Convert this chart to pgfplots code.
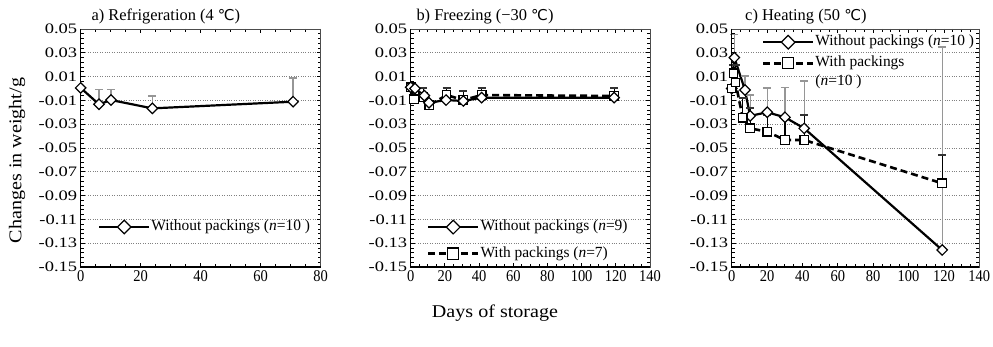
\documentclass[border=0pt]{standalone}
\usepackage{pgfplots}
\pgfplotsset{compat=1.18}
\usepackage{fontspec}
\setmainfont{Liberation Serif}
\newfontfamily\symfont{DejaVu Sans}
\newfontfamily\ytf{Liberation Serif}[FakeStretch=1.28]
\newfontfamily\xtf{Liberation Serif}[FakeStretch=0.88]
\newfontfamily\widefont{Liberation Serif}[FakeStretch=1.12]
\newcommand{\degC}{{\symfont\fontsize{15}{17}\selectfont ℃}}
\definecolor{eb}{RGB}{150,150,150}

\pgfplotsset{
 panel/.style={
  scale only axis, height=238bp, clip=false,
  ymin=-0.15, ymax=0.05,
  ytick={-0.15,-0.13,-0.11,-0.09,-0.07,-0.05,-0.03,-0.01,0.01,0.03,0.05},
  minor y tick num=4, minor x tick num=3,
  ymajorgrids, grid style={dotted, line width=0.9bp, black!50},
  axis line style={line width=0.6bp, black!70},
  tick align=inside, major tick length=4bp, minor tick length=3bp,
  tick style={black, line width=0.8bp},
  yticklabel style={/tikz/font=\ytf\fontsize{14.5}{17}\selectfont, /pgf/number format/.cd, fixed, fixed zerofill, precision=2, assume math mode=true},
  xticklabel style={/tikz/font=\xtf\fontsize{16.5}{18}\selectfont, /pgf/number format/assume math mode=true},
  legend style={draw=none, fill=none, inner sep=0pt, font=\fontsize{15.5}{18}\selectfont,
    nodes={inner sep=1bp, text height=11bp, text depth=3.5bp}},
  legend cell align=left,
  legend image code/.code={\draw[mark repeat=2,mark phase=2,#1,every mark/.append style={scale=1.3}] plot coordinates {(0bp,0bp) (25bp,0bp) (50bp,0bp)};},
 },
 wo/.style={black, solid, line width=2.2bp, mark=square*, mark size=3.7bp,
   mark options={rotate=45, fill=white, solid, line width=1.2bp}},
 wi/.style={black, line width=2.6bp, dash pattern=on 7bp off 4bp, mark=square*, mark size=4.3bp,
   mark options={fill=white, solid, line width=1.2bp}},
 gerr/.style={error bars/.cd, y dir=plus, y explicit,
   error bar style={eb, solid, line width=1.2bp},
   error mark options={rotate=90, eb, mark size=4bp, line width=1.6bp}},
 kerr/.style={error bars/.cd, y dir=plus, y explicit,
   error bar style={black, solid, line width=1.2bp},
   error mark options={rotate=90, black!80, mark size=4bp, line width=2bp}},
}

\begin{document}
\begin{tikzpicture}
\path[use as bounding box] (0bp,0bp) rectangle (993bp,347bp);

% ---------- a) Refrigeration ----------
\begin{axis}[panel, at={(80.7bp,80bp)}, anchor=south west, width=240bp,
  xmin=0, xmax=80, xtick={0,20,...,80},
  legend style={at={(rel axis cs:0.072,0.168)}, anchor=west}]
\addplot[wo, gerr] table[x=x, y=y, y error=e] {
x y e
0 0.0005 0
6.1 -0.0133 0.0123
10.1 -0.0097 0.0087
23.9 -0.0167 0.0104
70.8 -0.0111 0.0197
};
\addlegendentry{Without packings (\textit{n}=10 )}
\draw[line width=1.3bp] (rel axis cs:0,1) -- (rel axis cs:0,0) -- (rel axis cs:1,0);
\end{axis}

% ---------- b) Freezing ----------
\begin{axis}[panel, at={(410.7bp,80bp)}, anchor=south west, width=239.3bp,
  xmin=0, xmax=140, xtick={0,20,...,140}, reverse legend,
  legend style={at={(rel axis cs:0.067,0.112)}, anchor=west, row sep=10bp}]
\addplot[wi, kerr] table[x=x, y=y, y error=e] {
x y e
0 0.001 0
2 -0.009 0
7.4 -0.0070 0.0072
10.9 -0.0140 0
21 -0.0055 0.0057
30.8 -0.0097 0.0079
41.5 -0.0055 0.0057
119 -0.0063 0.0065
};
\addlegendentry{With packings (\textit{n}=7)}
\addplot[wo] table[x=x, y=y] {
x y
0 0.001
2.5 0.000
8 -0.006
10.7 -0.012
20.7 -0.0097
30.8 -0.0105
41.5 -0.0077
119 -0.0077
};
\addlegendentry{Without packings (\textit{n}=9)}
\draw[line width=1.3bp] (rel axis cs:0,1) -- (rel axis cs:0,0) -- (rel axis cs:1,0);
\end{axis}

% ---------- c) Heating ----------
\begin{axis}[panel, at={(731.7bp,80bp)}, anchor=south west, width=247.6bp,
  xmin=0, xmax=140, xtick={0,20,...,140},
  legend style={at={(rel axis cs:0.121,0.980)}, anchor=north west, row sep=4.5bp}]
\addplot[wo, gerr] table[x=x, y=y, y error=e] {
x y e
0 0.000 0
1.5 0.026 0.0195
7.5 -0.0013 0.012
10.4 -0.023 0.0175
20.1 -0.020 0.0202
30.1 -0.0242 0.0249
41 -0.0335 0.0398
119 -0.1357 0.1707
};
\addlegendentry{Without packings (\textit{n}=10 )}
\addplot[wi, kerr] table[x=x, y=y, y error=e] {
x y e
0 0.000 0
1 0.0128 0.007
2.2 0.005 0.015
6.2 -0.0245 0.0165
10.4 -0.0335 0.017
20.1 -0.0363 0.0143
30.1 -0.0433 0.0183
41 -0.0433 0.021
119 -0.0797 0.0237
};
\addlegendentry{\begin{tabular}[t]{@{}l@{}}With packings\\[0.5bp](\textit{n}=10 )\end{tabular}}
\draw[line width=1.3bp] (rel axis cs:0,1) -- (rel axis cs:0,0) -- (rel axis cs:1,0);
\end{axis}

% titles and labels
\node[anchor=base west, font=\fontsize{16.5}{19}\selectfont] at (88bp,326bp) {a) Refrigeration (4 \degC)};
\node[anchor=base west, font=\fontsize{16.5}{19}\selectfont] at (413bp,326bp) {b) Freezing (−30 \degC)};
\node[anchor=base west, font=\fontsize{16.5}{19}\selectfont] at (741.7bp,326bp) {c) Heating (50 \degC)};
\node[rotate=90, font=\widefont\fontsize{18}{21}\selectfont] at (17bp,186.5bp) {Changes in weight/g};
\node[font=\widefont\fontsize{18}{21}\selectfont] at (495bp,34bp) {Days of storage};
\end{tikzpicture}
\end{document}
